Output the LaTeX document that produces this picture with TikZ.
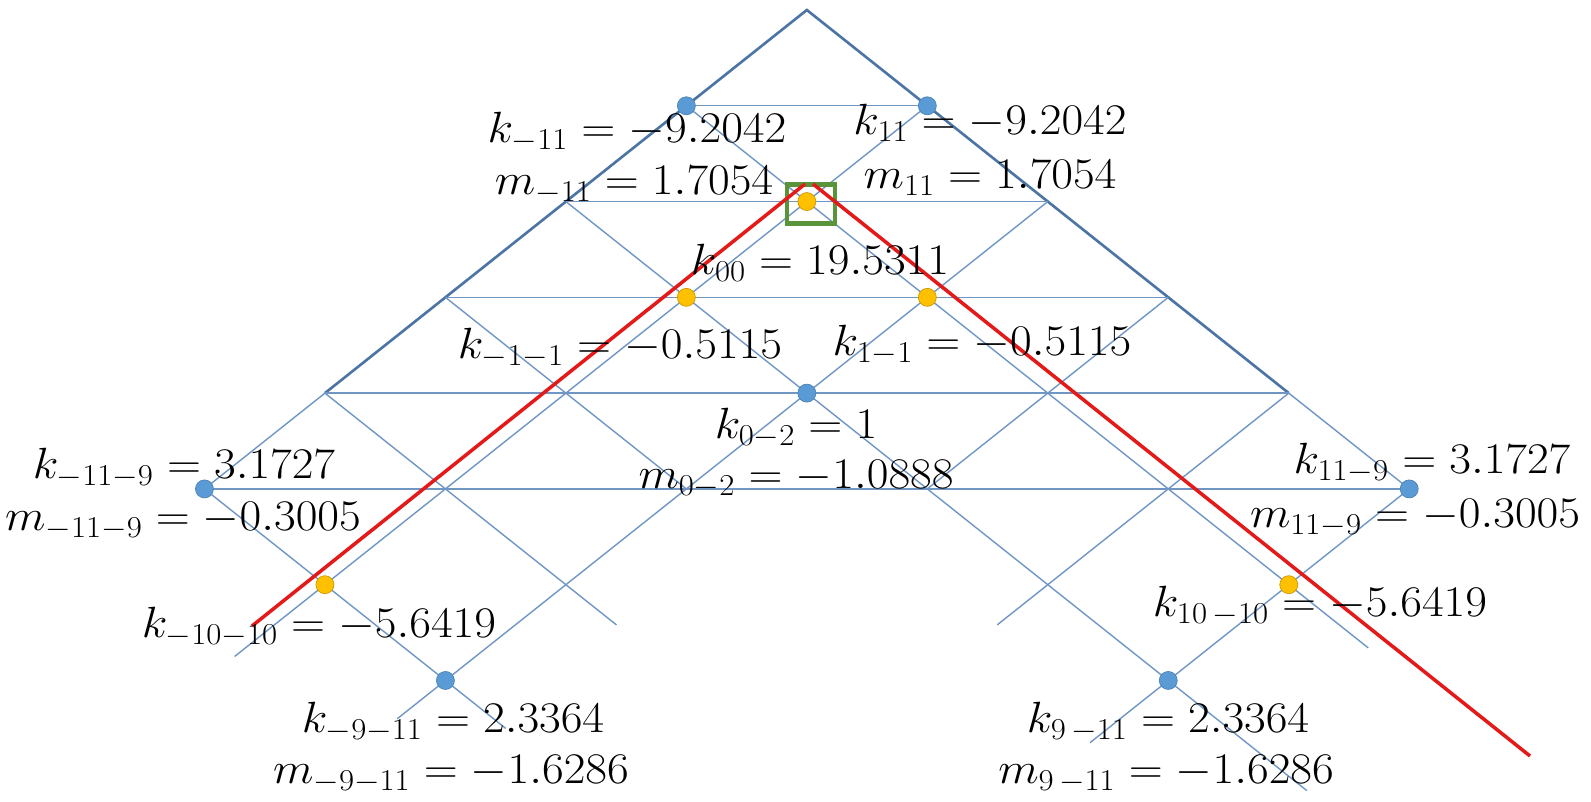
\documentclass[tikz,border=0pt]{standalone}
\usepackage{amsmath,amssymb}
\usepackage{xcolor}
\usepackage{tikz}
\usetikzlibrary{positioning}

\definecolor{gridblue}{RGB}{112,150,196}
\definecolor{edgeblue}{RGB}{76,116,164}
\definecolor{dotblue}{RGB}{91,155,213}
\definecolor{dotgold}{RGB}{255,192,0}
\definecolor{pathred}{RGB}{226,26,26}
\definecolor{boxgreen}{RGB}{90,148,58}

\newcommand{\val}[1]{\scalebox{1.08}[1]{$#1$}}

\begin{document}
\begin{tikzpicture}[
  x=0.02cm, y=-0.02cm,
  edgeline/.style={draw=edgeblue, line width=1.5pt},
  gridline/.style={draw=gridblue, line width=0.8pt},
  redline/.style={draw=pathred, line width=2pt},
  selbox/.style={rectangle, draw=boxgreen, line width=2.4pt, minimum width=0.96cm, minimum height=0.78cm, inner sep=0pt},
  bdot/.style={circle, fill=dotblue, draw=dotblue!85!black, line width=0.4pt, minimum size=0.36cm, inner sep=0pt},
  ydot/.style={circle, fill=dotgold, draw=dotgold!80!black, line width=0.4pt, minimum size=0.36cm, inner sep=0pt},
  eqn/.style={font=\fontsize{24}{28}\selectfont, inner sep=0pt}
]
\useasboundingbox (0,0) rectangle (1591,801);

% Lattice points
\begin{scope}[shift={(16.14cm,-0.2cm)}, x=2.41cm, y=-1.916cm]
  \foreach \p in {-7,...,7}
    \foreach \q in {0,...,8}
      \coordinate (L\p_\q) at (\p,\q);
  % loose ends below the base
  \coordinate (eA) at (-4.75,6.75);
  \coordinate (eB) at (-3.4,7.4);
  \coordinate (eC) at (1.58,6.42);
  \coordinate (eD) at (2.35,7.65);
  \coordinate (eE) at (4.66,6.66);
  \coordinate (eF) at (4.15,8.15);
  \coordinate (eG) at (-1.58,6.42);
  \coordinate (eH) at (-2.5,7.5);
\end{scope}

% Outer triangle
\draw[edgeline] (L-4_4) -- (L0_0) -- (L4_4);
\draw[gridline] (L-4_4) -- (L-5_5);
\draw[gridline] (L4_4) -- (L5_5);
% Rows
\foreach \q in {1,...,5}
  \draw[gridline] (L-\q_\q) -- (L\q_\q);
% Diagonals going down-left
\draw[gridline] (L1_1) -- (eA);
\draw[gridline] (L2_2) -- (eB);
\draw[gridline] (L3_3) -- (L1_5);
\draw[gridline] (L4_4) -- (eC);
\draw[gridline] (L5_5) -- (eD);
% Diagonals going down-right
\draw[gridline] (L-1_1) -- (eE);
\draw[gridline] (L-2_2) -- (eF);
\draw[gridline] (L-3_3) -- (L-1_5);
\draw[gridline] (L-4_4) -- (eG);
\draw[gridline] (L-5_5) -- (eH);

% Selected node and path
\node[selbox] (sel) at (811,204) {};
\coordinate (rA) at (252,626);
\coordinate (rT1) at (805,184);
\coordinate (rT2) at (813,184);
\coordinate (rB) at (1530,756);
\draw[redline] (rA) -- (rT1);
\draw[redline] (rT2) -- (rB);

% Dots
\node[bdot] (dn11) at (L-1_1) {};
\node[bdot] (dp11) at (L1_1) {};
\node[ydot] (d00) at (L0_2) {};
\node[ydot] (dn1n1) at (L-1_3) {};
\node[ydot] (dp1n1) at (L1_3) {};
\node[bdot] (d0n2) at (L0_4) {};
\node[bdot] (dn11n9) at (L-5_5) {};
\node[bdot] (dp11n9) at (L5_5) {};
\node[ydot] (dn10n10) at (L-4_6) {};
\node[ydot] (dp10n10) at (L4_6) {};
\node[bdot] (dn9n11) at (L-3_7) {};
\node[bdot] (dp9n11) at (L3_7) {};

% Values
\node[eqn] (kn11) at (637,132) {\val{k_{-11} = -9.2042}};
\node[eqn] (mn11) at (634,185) {\val{m_{-11} = 1.7054}};
\node[eqn] (kp11) at (990,123) {\val{k_{11} = -9.2042}};
\node[eqn] (mp11) at (990,178) {\val{m_{11} = 1.7054}};
\node[eqn] (k00) at (820,263) {\val{k_{00} = 19.5311}};
\node[eqn] (kn1n1) at (620,348) {\val{k_{-1-1} = -0.5115}};
\node[eqn] (kp1n1) at (982,345) {\val{k_{1-1} = -0.5115}};
\node[eqn] (k0n2) at (796,428) {\val{k_{0-2} = 1}};
\node[eqn] (m0n2) at (796,479) {\val{m_{0-2} = -1.0888}};
\node[eqn] (kn11n9) at (184,468) {\val{k_{-11-9} = 3.1727}};
\node[eqn] (mn11n9) at (183,521) {\val{m_{-11-9} = -0.3005}};
\node[eqn] (kp11n9) at (1432,463) {\val{k_{11-9} = 3.1727}};
\node[eqn] (mp11n9) at (1415,518) {\val{m_{11-9} = -0.3005}};
\node[eqn] (kn10n10) at (319,627) {\val{k_{-10-10} = -5.6419}};
\node[eqn] (kp10n10) at (1320,606) {\val{k_{10\,-10} = -5.6419}};
\node[eqn] (kn9n11) at (453,722) {\val{k_{-9-11} = 2.3364}};
\node[eqn] (mn9n11) at (451,774) {\val{m_{-9-11} = -1.6286}};
\node[eqn] (kp9n11) at (1168,722) {\val{k_{9\,-11} = 2.3364}};
\node[eqn] (mp9n11) at (1166,774) {\val{m_{9\,-11} = -1.6286}};
\end{tikzpicture}
\end{document}
